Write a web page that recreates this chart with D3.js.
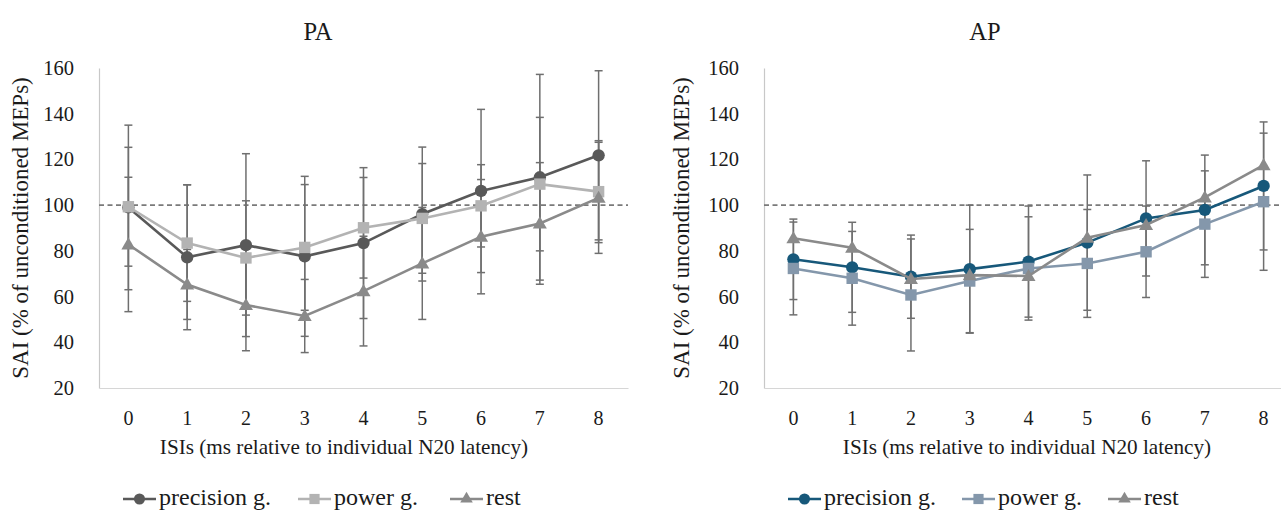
<!DOCTYPE html>
<html><head><meta charset="utf-8">
<script src="https://cdn.jsdelivr.net/npm/d3@7"></script>
<style>
html,body{margin:0;padding:0;background:#fff;}
svg text{font-family:"Liberation Serif","Times New Roman",serif;fill:#1a1a1a;}
</style></head>
<body><svg id="c" width="1281" height="512"></svg>
<script>
const categories = [0,1,2,3,4,5,6,7,8];
const yTicks = [20,40,60,80,100,120,140,160];
const seriesNames = ["precision g.", "power g.", "rest"];
const panelTitles = ["PA", "AP"];
const xAxisTitle = "ISIs (ms relative to individual N20 latency)";
const yAxisTitle = "SAI (% of unconditioned MEPs)";
const referenceLine = 100;

// PA panel
const paPrecision    = [99.0, 77.2, 82.5, 77.6, 83.4, 96.1, 106.2, 112.2, 121.8];
const paPrecisionErr = [36.0, 31.7, 40.0, 35.0, 33.0, 29.3, 35.7, 45.0, 37.0];
const paPower        = [99.3, 83.4, 76.9, 81.5, 90.1, 94.2, 99.7, 109.2, 105.9];
const paPowerErr     = [26.0, 25.5, 25.0, 27.5, 22.0, 24.0, 18.0, 29.2, 22.3];
const paRest         = [82.8, 65.3, 56.3, 51.5, 62.4, 74.5, 86.2, 92.0, 103.2];
const paRestErr      = [29.4, 15.3, 20.0, 16.0, 24.0, 24.5, 25.0, 26.6, 24.3];

// AP panel
const apPrecision    = [76.3, 72.8, 68.7, 72.0, 75.3, 83.6, 94.2, 97.9, 108.4];
const apPrecisionErr = [17.6, 19.7, 18.2, 28.0, 24.3, 29.6, 25.2, 24.0, 28.0];
const apPower        = [72.3, 68.0, 60.7, 66.8, 72.3, 74.5, 79.6, 91.7, 101.5];
const apPowerErr     = [20.3, 20.5, 24.5, 22.6, 22.6, 23.6, 20.0, 23.3, 30.0];
const apRest         = [85.5, 81.4, 67.7, 69.4, 69.0, 85.7, 91.3, 103.4, 117.5];
const apRestErr      = null;

const paColors = ["#595959", "#b3b3b3", "#8a8a8a"];
const apColors = ["#17587a", "#8497ab", "#8a8a8a"];
const errColor = "#6f6f6f";

const panels = [
  {title: panelTitles[0], left: 99, right: 628, titleX: 318, axisTitleX: 344, yTitleX: 27.5,
   legendXs: [123, 298, 450], colors: paColors,
   series: [{v: paPrecision, e: paPrecisionErr}, {v: paPower, e: paPowerErr}, {v: paRest, e: paRestErr}]},
  {title: panelTitles[1], left: 764, right: 1293, titleX: 985, axisTitleX: 1027, yTitleX: 688.5,
   legendXs: [788, 962, 1108], colors: apColors,
   series: [{v: apPrecision, e: apPrecisionErr}, {v: apPower, e: apPowerErr}, {v: apRest, e: apRestErr}]}
];
const shapes = [d3.symbolCircle, d3.symbolSquare, d3.symbolTriangle];
const shapeSize = [120, 130, 85];

const svg = d3.select("#c");
const plotTop = 68, plotBottom = 388;

panels.forEach(p => {
  const g = svg.append("g");
  const x = d3.scaleBand().domain(categories).range([p.left, p.right]).padding(0);
  const y = d3.scaleLinear().domain([20,160]).range([plotBottom, plotTop]);
  const cx = d => x(d) + x.bandwidth()/2;

  const yAx = g.append("g").attr("transform", `translate(${p.left},0)`)
    .call(d3.axisLeft(y).tickValues(yTicks).tickSize(0).tickPadding(25));
  yAx.select(".domain").attr("stroke", "#c8c8c8").attr("stroke-width", 1.2);
  yAx.selectAll("text").attr("font-size", 20.5).attr("font-family", "Liberation Serif").attr("fill", "#1a1a1a");

  const xAx = g.append("g").attr("transform", `translate(0,${plotBottom})`)
    .call(d3.axisBottom(x).tickSize(0).tickPadding(22.5));
  xAx.select(".domain").attr("stroke", "#d6d6d6").attr("stroke-width", 1.2);
  xAx.selectAll("text").attr("font-size", 20).attr("font-family", "Liberation Serif").attr("fill", "#1a1a1a");

  g.append("line").attr("x1", p.left).attr("x2", p.right)
    .attr("y1", y(referenceLine)).attr("y2", y(referenceLine))
    .attr("stroke", "#7a7a7a").attr("stroke-width", 1.6).attr("stroke-dasharray", "5,3.5");

  g.append("text").attr("x", p.titleX).attr("y", 40).attr("text-anchor", "middle")
    .attr("font-size", 24.5).text(p.title);
  g.append("text").attr("x", p.axisTitleX).attr("y", 454).attr("text-anchor", "middle")
    .attr("font-size", 21.2).text(xAxisTitle);
  g.append("text").attr("transform", `translate(${p.yTitleX},228) rotate(-90)`)
    .attr("text-anchor", "middle").attr("font-size", 23).text(yAxisTitle);

  p.series.forEach((s, si) => {
    if (!s.e) return;
    const eg = g.append("g");
    categories.forEach((c, i) => {
      const xc = cx(c), hi = y(s.v[i] + s.e[i]), lo = y(s.v[i] - s.e[i]);
      eg.append("line").attr("x1", xc).attr("x2", xc).attr("y1", hi).attr("y2", lo)
        .attr("stroke", errColor).attr("stroke-width", 1.5);
      [hi, lo].forEach(yy => eg.append("line").attr("x1", xc - 4).attr("x2", xc + 4)
        .attr("y1", yy).attr("y2", yy).attr("stroke", errColor).attr("stroke-width", 1.5));
    });
  });

  p.series.forEach((s, si) => {
    const line = d3.line().x((d, i) => cx(categories[i])).y(d => y(d));
    g.append("path").datum(s.v).attr("d", line).attr("fill", "none")
      .attr("stroke", p.colors[si]).attr("stroke-width", 2.6);
    g.selectAll(null).data(s.v).enter().append("path")
      .attr("d", d3.symbol().type(shapes[si]).size(shapeSize[si]))
      .attr("transform", (d, i) => `translate(${cx(categories[i])},${y(d) + (si === 2 ? 1 : 0)})`)
      .attr("fill", p.colors[si]);
  });

  seriesNames.forEach((n, si) => {
    const item = g.append("g").attr("transform", `translate(${p.legendXs[si]},499)`);
    item.append("line").attr("x1", 0).attr("x2", 33).attr("y1", 0).attr("y2", 0)
      .attr("stroke", p.colors[si]).attr("stroke-width", 2.6);
    item.append("path").attr("d", d3.symbol().type(shapes[si]).size(shapeSize[si]*0.8))
      .attr("transform", "translate(16.5,0)").attr("fill", p.colors[si]);
    item.append("text").attr("x", 36).attr("y", 6).attr("font-size", 24).text(n);
  });
});
</script></body></html>
